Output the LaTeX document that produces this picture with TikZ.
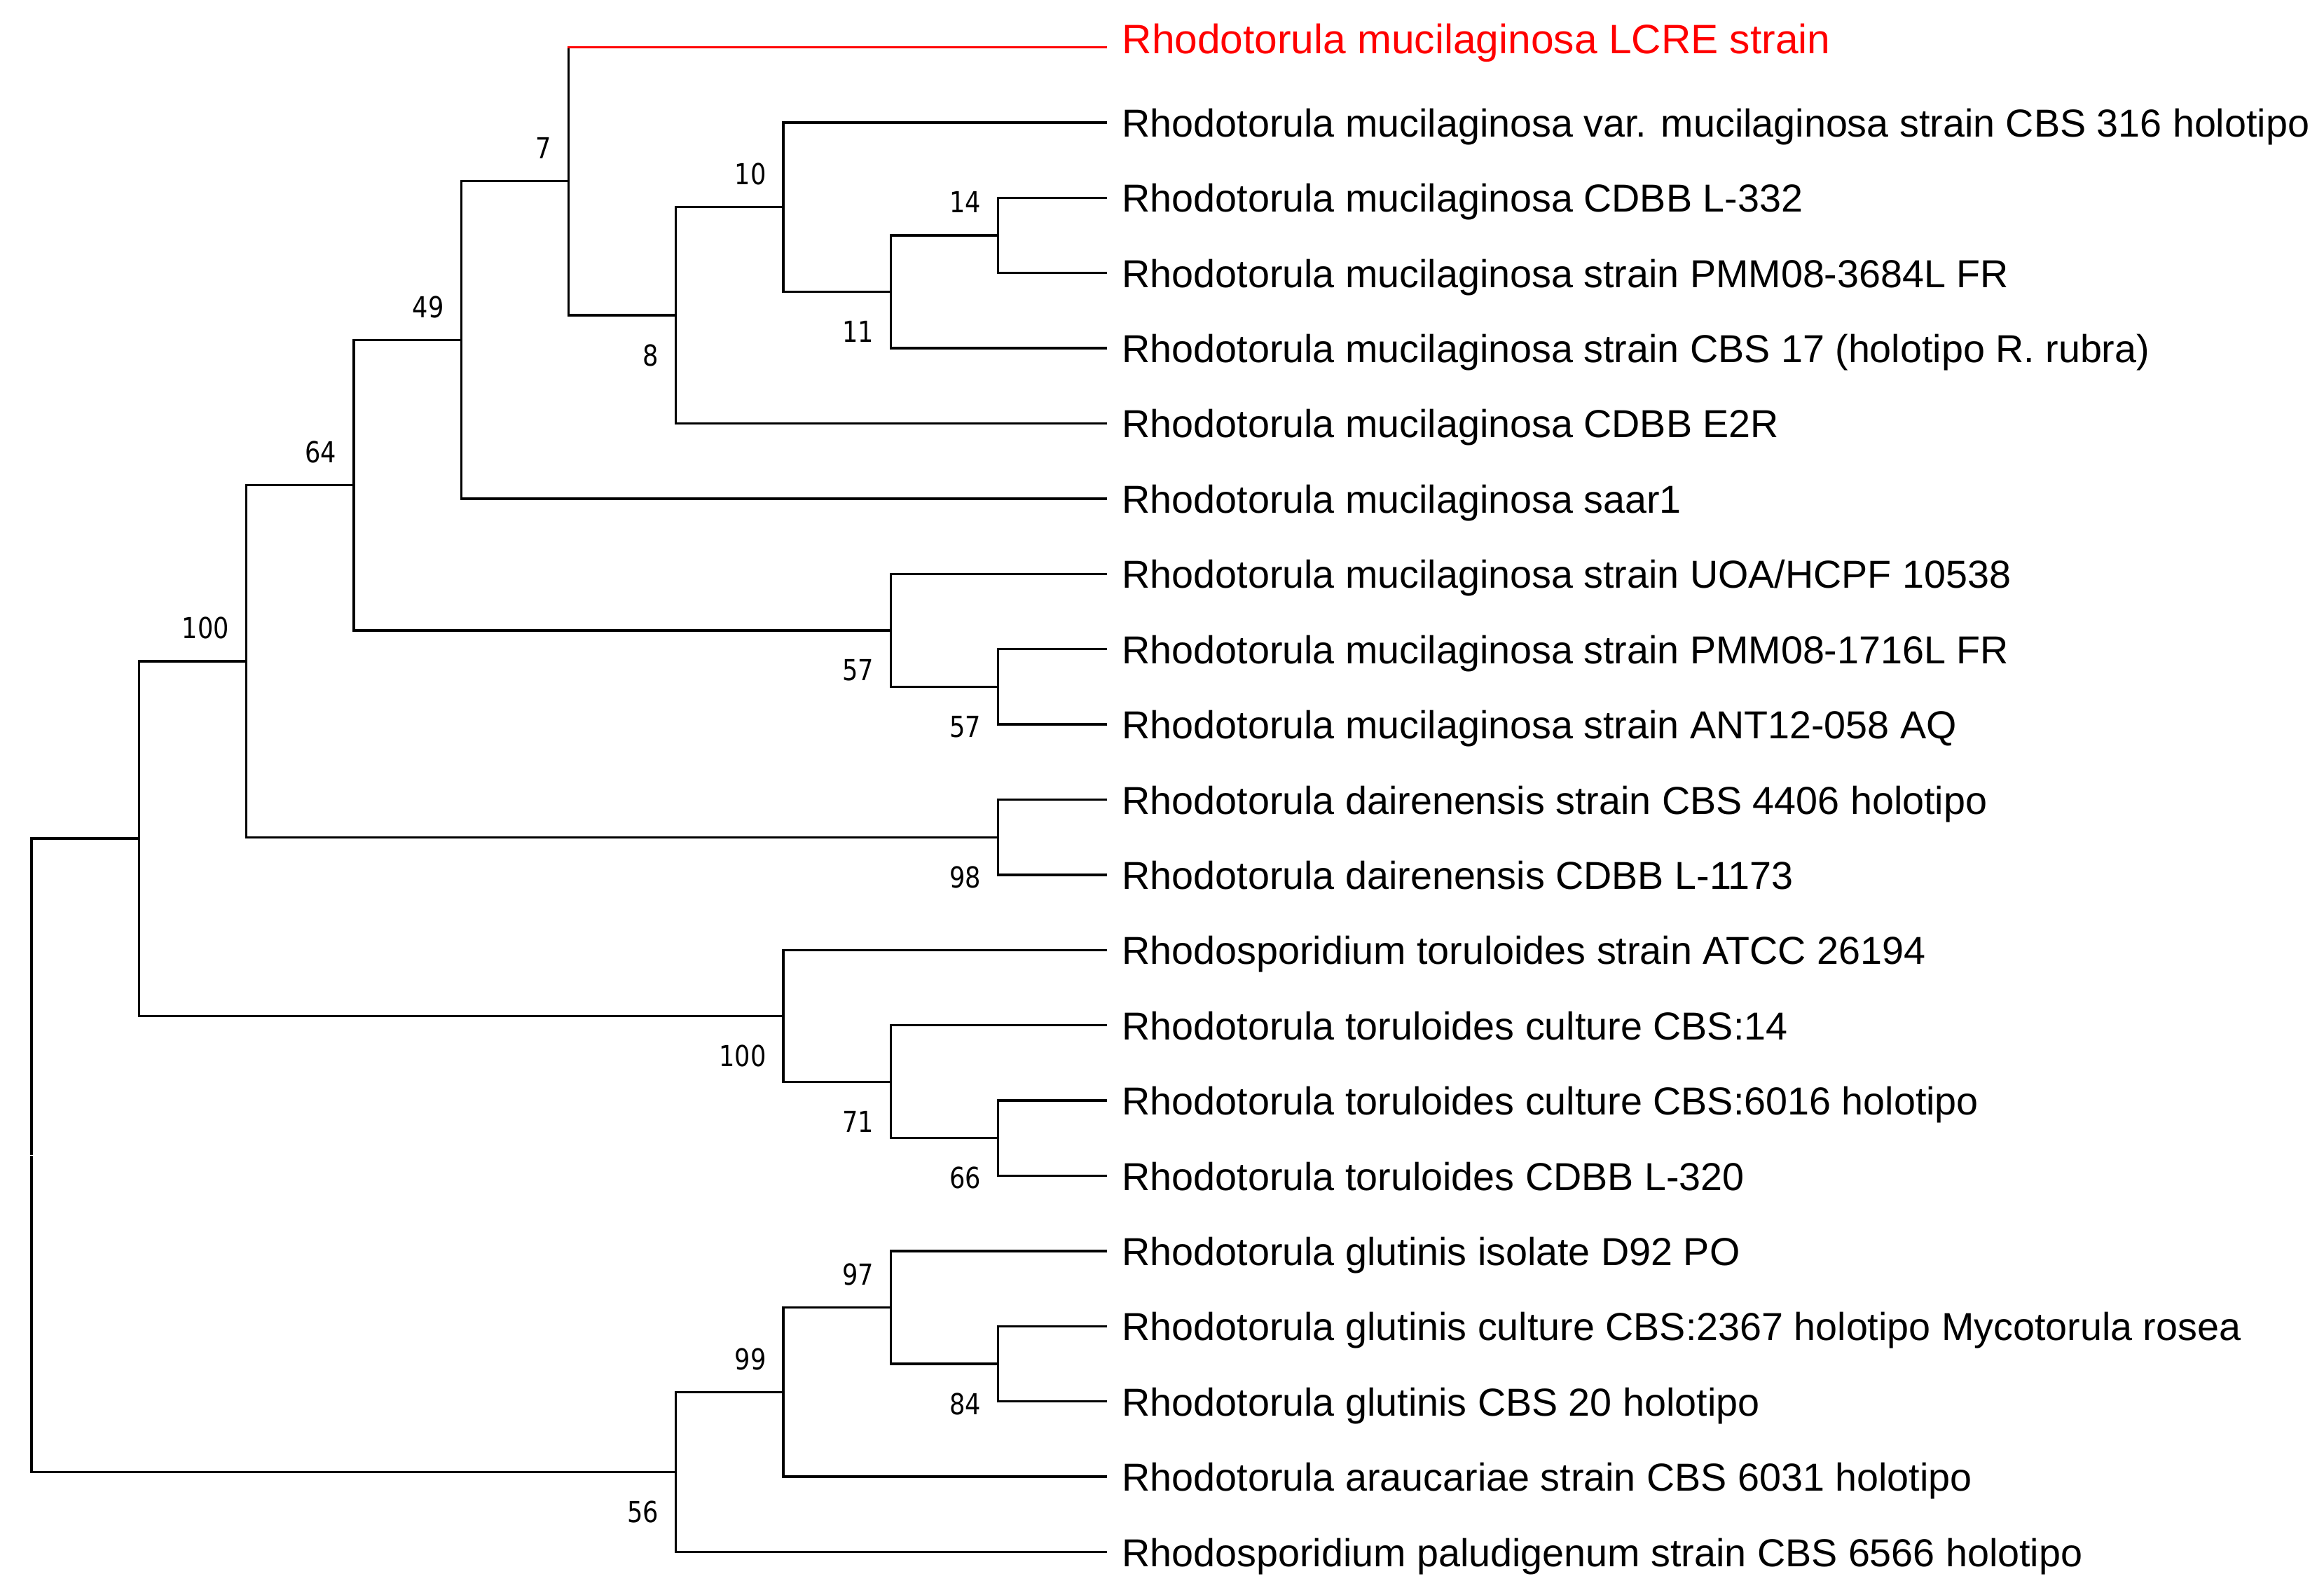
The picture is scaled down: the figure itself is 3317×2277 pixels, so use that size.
\documentclass[tikz,border=0pt]{standalone}
\usepackage{fontspec}
\setmainfont{Liberation Sans}
\newfontfamily\bsfont[FakeStretch=0.85]{DejaVu Sans}
\usetikzlibrary{calc}
\begin{document}
\begin{tikzpicture}[x=0.3pt,y=-0.3pt,
  br/.style={line width=1pt,line cap=rect},
  leaf/.style={anchor=base west,inner sep=0pt,font=\fontsize{16.7}{20}\selectfont},
  bs/.style={anchor=base east,inner sep=0pt,font=\bsfont\fontsize{12.4}{14}\selectfont}]
\useasboundingbox (0,0) rectangle (3317,2277);
% leaves
\coordinate (L1) at (1578,67.5);
\coordinate (L2) at (1578,174.9);
\coordinate (L3) at (1578,282.3);
\coordinate (L4) at (1578,389.7);
\coordinate (L5) at (1578,497.1);
\coordinate (L6) at (1578,604.5);
\coordinate (L7) at (1578,711.9);
\coordinate (L8) at (1578,819.3);
\coordinate (L9) at (1578,926.7);
\coordinate (L10) at (1578,1034.1);
\coordinate (L11) at (1578,1141.5);
\coordinate (L12) at (1578,1248.9);
\coordinate (L13) at (1578,1356.3);
\coordinate (L14) at (1578,1463.7);
\coordinate (L15) at (1578,1571.1);
\coordinate (L16) at (1578,1678.5);
\coordinate (L17) at (1578,1785.9);
\coordinate (L18) at (1578,1893.3);
\coordinate (L19) at (1578,2000.7);
\coordinate (L20) at (1578,2108.1);
\coordinate (L21) at (1578,2215.5);
% internal nodes
\coordinate (n14) at (1424.7,336.0);
\coordinate (n11) at (1271.4,416.55);
\coordinate (n10) at (1118.1,295.7);
\coordinate (n8) at (964.8,450.1);
\coordinate (n7) at (811.5,258.8);
\coordinate (n49) at (658.2,485.35);
\coordinate (n57b) at (1424.7,980.4);
\coordinate (n57a) at (1271.4,899.85);
\coordinate (n64) at (504.9,692.6);
\coordinate (n98) at (1424.7,1195.2);
\coordinate (nA) at (351.6,943.9);
\coordinate (n66) at (1424.7,1624.8);
\coordinate (n71) at (1271.4,1544.25);
\coordinate (nC) at (1118.1,1450.3);
\coordinate (nB) at (198.3,1197.1);
\coordinate (n84) at (1424.7,1947.0);
\coordinate (n97) at (1271.4,1866.45);
\coordinate (n99) at (1118.1,1987.3);
\coordinate (n56) at (964.8,2101.4);
\coordinate (root) at (45,1649.25);
% branches
\draw[br] ([shift={(0,-2)}]root) |- (nB);
\draw[br] ([shift={(0,2)}]root) |- (n56);
\draw[br] (nB) |- (nA);
\draw[br] (nB) |- (nC);
\draw[br] (nA) |- (n64);
\draw[br] (nA) |- (n98);
\draw[br] (n64) |- (n49);
\draw[br] (n64) |- (n57a);
\draw[br] (n49) |- (n7);
\draw[br] (n49) |- (L7);
\draw[br] (n7) -- (n7 |- L1);
\draw[br,red] (n7 |- L1) -- (L1);
\draw[br] (n7) |- (n8);
\draw[br] (n8) |- (n10);
\draw[br] (n8) |- (L6);
\draw[br] (n10) |- (L2);
\draw[br] (n10) |- (n11);
\draw[br] (n11) |- (n14);
\draw[br] (n11) |- (L5);
\draw[br] (n14) |- (L3);
\draw[br] (n14) |- (L4);
\draw[br] (n57a) |- (L8);
\draw[br] (n57a) |- (n57b);
\draw[br] (n57b) |- (L9);
\draw[br] (n57b) |- (L10);
\draw[br] (n98) |- (L11);
\draw[br] (n98) |- (L12);
\draw[br] (nC) |- (L13);
\draw[br] (nC) |- (n71);
\draw[br] (n71) |- (L14);
\draw[br] (n71) |- (n66);
\draw[br] (n66) |- (L15);
\draw[br] (n66) |- (L16);
\draw[br] (n56) |- (n99);
\draw[br] (n56) |- (L21);
\draw[br] (n99) |- (n97);
\draw[br] (n99) |- (L20);
\draw[br] (n97) |- (L17);
\draw[br] (n97) |- (n84);
\draw[br] (n84) |- (L18);
\draw[br] (n84) |- (L19);
% bootstrap labels (above: -32, below: +72)
\node[bs] (b7) at ([shift={(-24,-32)}]n7) {7};
\node[bs] (b10) at ([shift={(-24,-32)}]n10) {10};
\node[bs] (b14) at ([shift={(-24,-32)}]n14) {14};
\node[bs] (b11) at ([shift={(-24,72)}]n11) {11};
\node[bs] (b8) at ([shift={(-24,72)}]n8) {8};
\node[bs] (b49) at ([shift={(-24,-32)}]n49) {49};
\node[bs] (b64) at ([shift={(-24,-32)}]n64) {64};
\node[bs] (b57a) at ([shift={(-24,72)}]n57a) {57};
\node[bs] (b57b) at ([shift={(-24,72)}]n57b) {57};
\node[bs] (b98) at ([shift={(-24,72)}]n98) {98};
\node[bs] (bA) at ([shift={(-24,-32)}]nA) {100};
\node[bs] (bC) at ([shift={(-24,72)}]nC) {100};
\node[bs] (b71) at ([shift={(-24,72)}]n71) {71};
\node[bs] (b66) at ([shift={(-24,72)}]n66) {66};
\node[bs] (b56) at ([shift={(-24,72)}]n56) {56};
\node[bs] (b99) at ([shift={(-24,-32)}]n99) {99};
\node[bs] (b97) at ([shift={(-24,-32)}]n97) {97};
\node[bs] (b84) at ([shift={(-24,72)}]n84) {84};
% leaf labels
\node[leaf,text=red,font=\fontsize{17.6}{21}\selectfont] (t1) at ([shift={(23,9)}]L1) {Rhodotorula mucilaginosa LCRE strain};
\node[leaf] (t2) at ([shift={(23,20.5)}]L2) {Rhodotorula mucilaginosa var. mucilaginosa strain CBS 316 holotipo};
\node[leaf] (t3) at ([shift={(23,20.5)}]L3) {Rhodotorula mucilaginosa CDBB L-332};
\node[leaf] (t4) at ([shift={(23,20.5)}]L4) {Rhodotorula mucilaginosa strain PMM08-3684L FR};
\node[leaf] (t5) at ([shift={(23,20.5)}]L5) {Rhodotorula mucilaginosa strain CBS 17 (holotipo R. rubra)};
\node[leaf] (t6) at ([shift={(23,20.5)}]L6) {Rhodotorula mucilaginosa CDBB E2R};
\node[leaf] (t7) at ([shift={(23,20.5)}]L7) {Rhodotorula mucilaginosa saar1};
\node[leaf] (t8) at ([shift={(23,20.5)}]L8) {Rhodotorula mucilaginosa strain UOA/HCPF 10538};
\node[leaf] (t9) at ([shift={(23,20.5)}]L9) {Rhodotorula mucilaginosa strain PMM08-1716L FR};
\node[leaf] (t10) at ([shift={(23,20.5)}]L10) {Rhodotorula mucilaginosa strain ANT12-058 AQ};
\node[leaf] (t11) at ([shift={(23,20.5)}]L11) {Rhodotorula dairenensis strain CBS 4406 holotipo};
\node[leaf] (t12) at ([shift={(23,20.5)}]L12) {Rhodotorula dairenensis CDBB L-1173};
\node[leaf] (t13) at ([shift={(23,20.5)}]L13) {Rhodosporidium toruloides strain ATCC 26194};
\node[leaf] (t14) at ([shift={(23,20.5)}]L14) {Rhodotorula toruloides culture CBS:14};
\node[leaf] (t15) at ([shift={(23,20.5)}]L15) {Rhodotorula toruloides culture CBS:6016 holotipo};
\node[leaf] (t16) at ([shift={(23,20.5)}]L16) {Rhodotorula toruloides CDBB L-320};
\node[leaf] (t17) at ([shift={(23,20.5)}]L17) {Rhodotorula glutinis isolate D92 PO};
\node[leaf] (t18) at ([shift={(23,20.5)}]L18) {Rhodotorula glutinis culture CBS:2367 holotipo Mycotorula rosea};
\node[leaf] (t19) at ([shift={(23,20.5)}]L19) {Rhodotorula glutinis CBS 20 holotipo};
\node[leaf] (t20) at ([shift={(23,20.5)}]L20) {Rhodotorula araucariae strain CBS 6031 holotipo};
\node[leaf] (t21) at ([shift={(23,20.5)}]L21) {Rhodosporidium paludigenum strain CBS 6566 holotipo};
\end{tikzpicture}
\end{document}
